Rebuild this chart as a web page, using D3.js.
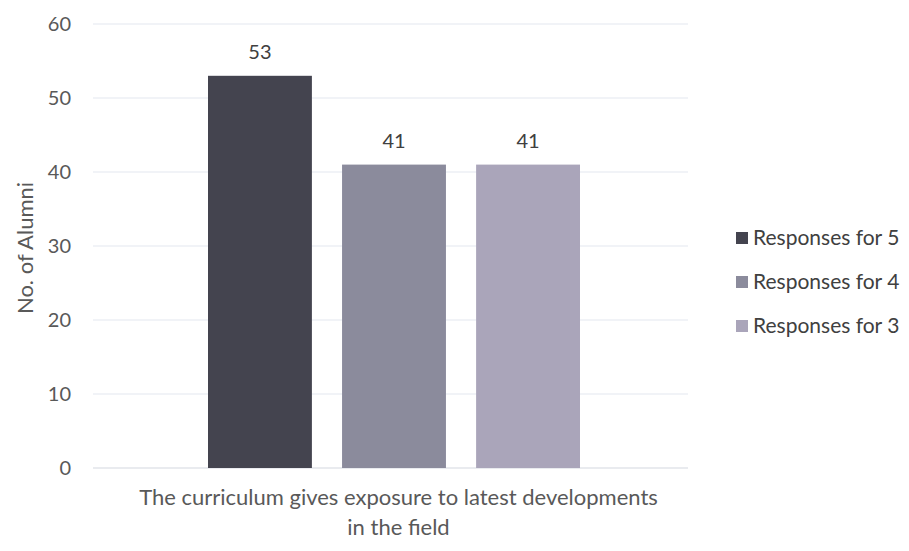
<!DOCTYPE html>
<html>
<head>
<meta charset="utf-8">
<script src="https://cdn.jsdelivr.net/npm/d3@7"></script>
<style>
  body { margin: 0; background: #fff; }
  text { font-family: Lato, "Open Sans", sans-serif; fill: #595959; }
</style>
</head>
<body>
<div id="chart"></div>
<script>
// data
var category = "The curriculum gives exposure to latest developments";
var categoryLine2 = "in the field";
var seriesNames = ["Responses for 5", "Responses for 4", "Responses for 3"];
var seriesValues = [53, 41, 41];
var seriesColors = ["#44444f", "#8b8b9c", "#aaa5ba"];
var yTicks = [0, 10, 20, 30, 40, 50, 60];
var yTitle = "No. of Alumni";

var width = 909, height = 551;
var plotLeft = 93, plotRight = 688, plotTop = 24, plotBottom = 468;

var svg = d3.select("#chart").append("svg")
  .attr("width", width)
  .attr("height", height);

var y = d3.scaleLinear().domain([0, 60]).range([plotBottom, plotTop]);

// one category, 3 series -> band for the series inside the category
var x0 = d3.scaleBand().domain([category]).range([plotLeft, plotRight]).paddingInner(0).paddingOuter(0.1);
var x1 = d3.scaleBand().domain(seriesNames).range([plotLeft + 115, plotRight - 108]).paddingInner(0.225);

// gridlines
svg.append("g").selectAll("line").data(yTicks).enter().append("line")
  .attr("x1", plotLeft).attr("x2", plotRight)
  .attr("y1", d => y(d)).attr("y2", d => y(d))
  .attr("stroke", d => d === 0 ? "#e2e4ea" : "#eceff5")
  .attr("stroke-width", 1.3);

// y tick labels
svg.append("g").selectAll("text").data(yTicks).enter().append("text")
  .attr("x", 71).attr("y", d => y(d))
  .attr("dy", "0.35em")
  .attr("text-anchor", "end")
  .style("font-size", "20px")
  .text(d => d);

// y title
svg.append("text")
  .attr("transform", "translate(25," + 248 + ") rotate(-90)")
  .attr("dy", "0.35em")
  .attr("text-anchor", "middle")
  .style("font-size", "22px")
  .text(yTitle);

// bars
svg.append("g").selectAll("rect").data(seriesValues).enter().append("rect")
  .attr("x", (d, i) => x1(seriesNames[i]))
  .attr("width", x1.bandwidth())
  .attr("y", d => y(d))
  .attr("height", d => plotBottom - y(d))
  .attr("fill", (d, i) => seriesColors[i]);

// value labels
svg.append("g").selectAll("text").data(seriesValues).enter().append("text")
  .attr("x", (d, i) => x1(seriesNames[i]) + x1.bandwidth() / 2)
  .attr("y", d => y(d) - 24)
  .attr("dy", "0.35em")
  .attr("text-anchor", "middle")
  .style("font-size", "20px")
  .style("fill", "#404040")
  .text(d => d);

// category label (two lines)
var cx = x0(category) + x0.bandwidth() / 2 + 8;
svg.append("text")
  .attr("x", cx).attr("y", 505)
  .attr("text-anchor", "middle")
  .style("font-size", "22px")
  .text(category);
svg.append("text")
  .attr("x", cx).attr("y", 535)
  .attr("text-anchor", "middle")
  .style("font-size", "22px")
  .text(categoryLine2);

// legend
var legend = svg.append("g").attr("transform", "translate(736,238)");
var items = legend.selectAll("g").data(seriesNames).enter().append("g")
  .attr("transform", (d, i) => "translate(0," + (i * 44) + ")");
items.append("rect")
  .attr("x", 0).attr("y", -6).attr("width", 12).attr("height", 12)
  .attr("fill", (d, i) => seriesColors[i]);
items.append("text")
  .attr("x", 17).attr("y", 0)
  .attr("dy", "0.35em")
  .style("font-size", "21px")
  .style("fill", "#404040")
  .text(d => d);
</script>
</body>
</html>
